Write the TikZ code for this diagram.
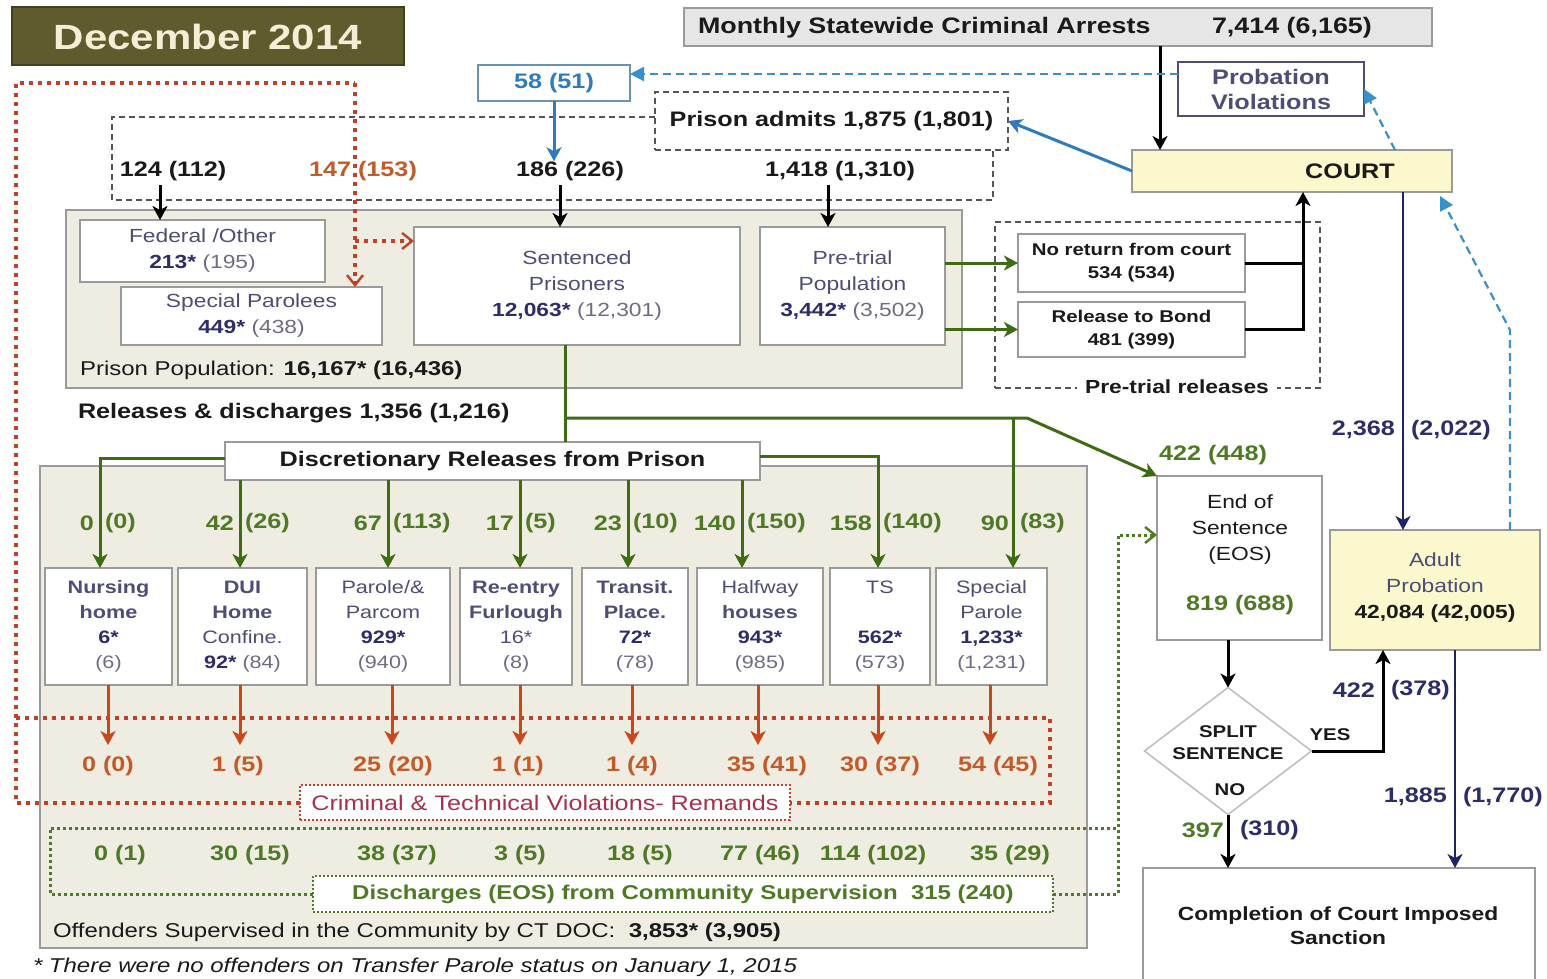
\documentclass[tikz,border=0pt]{standalone}
\usepackage{fontspec}
\setmainfont{Liberation Sans}[FakeStretch=1.2]
\usetikzlibrary{fit,arrows.meta,shapes.geometric}
\definecolor{olivebg}{HTML}{5E5B2C}
\definecolor{titletxt}{HTML}{F4EED6}
\definecolor{beige}{HTML}{EFEDE2}
\definecolor{bordergray}{HTML}{9A9A9A}
\definecolor{dgray}{HTML}{555555}
\definecolor{navy}{HTML}{2D2D6B}
\definecolor{slate}{HTML}{4D4D78}
\definecolor{pgray}{HTML}{6D6D80}
\definecolor{grnline}{HTML}{3E6B14}
\definecolor{grntxt}{HTML}{4F7A25}
\definecolor{orng}{HTML}{C8471C}
\definecolor{orngtxt}{HTML}{C25A2A}
\definecolor{rdotc}{HTML}{C0402A}
\definecolor{crim}{HTML}{A8304A}
\definecolor{blu}{HTML}{2E7BC0}
\definecolor{bludash}{HTML}{3A90C8}
\definecolor{bluegray}{HTML}{6A93AE}
\definecolor{navyline}{HTML}{1E2468}
\definecolor{yel}{HTML}{FAF8CC}
\definecolor{arrgray}{HTML}{E6E6E6}
\definecolor{txt}{HTML}{1A1A1A}
\newcommand\fA{\fontsize{10.5}{12.5}\selectfont\bfseries}
\newcommand\fBox{\fontsize{9.5}{13}\selectfont}
\newcommand\fSm{\fontsize{9}{12.5}\selectfont}
\newcommand\nb[1]{\textcolor{navy}{\bfseries #1}}
\newcommand\np[1]{\textcolor{pgray}{#1}}
\begin{document}
\begin{tikzpicture}[x=0.5pt,y=-0.5pt,
  every node/.style={inner sep=0pt, outer sep=0pt},
  region/.style={draw=bordergray, fill=beige, line width=0.8pt},
  wbox/.style={draw=bordergray, fill=white, line width=0.8pt},
  lblA/.style={font=\fA, text=txt},
  glbl/.style={font=\fA, text=grntxt},
  olbl/.style={font=\fA, text=orngtxt},
  nlbl/.style={font=\fA, text=navy},
  btxt/.style={align=center, font=\fBox, text=slate},
  stxt/.style={align=center, font=\fSm, text=slate},
  tipS/.style={-{Stealth[length=7pt,width=7.5pt,inset=2pt]}},
  ablk/.style={draw=black, line width=1.5pt, tipS},
  blkline/.style={draw=black, line width=1.5pt},
  agrn/.style={draw=grnline, line width=1.5pt, tipS},
  gline/.style={draw=grnline, line width=1.5pt},
  aorg/.style={draw=orng, line width=1.5pt, tipS},
  ablu/.style={draw=blu, line width=1.5pt, tipS},
  anav/.style={draw=navyline, line width=1.1pt, tipS},
  rdot/.style={draw=rdotc, line width=2pt, dash pattern=on 2pt off 2.5pt},
  gdot/.style={draw=grntxt, line width=1.5pt, dash pattern=on 1.5pt off 1.5pt},
  bdash/.style={draw=bludash, line width=1.1pt, dash pattern=on 4pt off 2.5pt},
  thdash/.style={draw=dgray, line width=0.6pt, dash pattern=on 3pt off 2pt},
  barb/.style={-{Straight Barb[length=5pt,width=8pt,line width=1.2pt]}}]
\useasboundingbox (0,0) rectangle (1547,979);
\fill[white] (0,0) rectangle (1547,979);

% ---------- regions ----------
\node[region, fit={(66,210)(962,388)}] (pp) {};
\node[region, fit={(40,466)(1087,948)}] (comm) {};

% ---------- top ----------
\node[fill=olivebg, draw=olivebg!70!black, line width=0.8pt, fit={(12,7)(404,65)}] (title) {};
\node[font=\fontsize{17.5}{20}\selectfont\bfseries, text=titletxt] (titlet) at (208,37) {December 2014};
\node[draw=bordergray, fill=arrgray, line width=0.8pt, fit={(684,8)(1432,46)}] (arr) {};
\node[font=\fontsize{11.2}{13}\selectfont\bfseries, text=txt, anchor=west] (arrt) at (698,28) {Monthly Statewide Criminal Arrests};
\node[font=\fontsize{11.2}{13}\selectfont\bfseries, text=txt, anchor=west] (arrn) at (1212,28) {7,414 (6,165)};
\node[draw=bluegray, fill=white, line width=0.8pt, fit={(478,65)(630,101)}] (b58) {};
\node[font=\fA, text=blu] (b58t) at (b58.center) {58 (51)};
\node[draw=slate, fill=white, line width=0.8pt, fit={(1178,62)(1364,116)}] (probv) {};
\node[font=\fA, text=slate, align=center] (probvt) at (probv.center) {Probation\\Violations};
\node[thdash, fill=white, fit={(655,92)(1008,150)}] (adm) {};
\node[lblA] (admt) at (adm.center) {Prison admits 1,875 (1,801)};
\coordinate (c117) at (0,117);
\draw[thdash] (adm.west |- c117) -- (112,117) -- (112,200) -- (993,200) -- (993,150);

\node[lblA] (l124) at (173,171) {124 (112)};
\node[olbl] (l147) at (363,171) {147 (153)};
\node[lblA] (l186) at (570,171) {186 (226)};
\node[lblA] (l1418) at (840,171) {1,418 (1,310)};

% ---------- prison population ----------
\node[wbox, fit={(80,220)(325,282)}] (fed) {};
\node[btxt] (fedt) at (fed.center) {Federal /Other\\\nb{213*} \np{(195)}};
\node[wbox, fit={(121,287)(382,345)}] (spp) {};
\node[btxt] (sppt) at (spp.center) {Special Parolees\\\nb{449*} \np{(438)}};
\node[wbox, fit={(414,227)(740,345)}] (sent) {};
\node[btxt] (sentt) at (sent.center) {Sentenced\\Prisoners\\\nb{12,063*} \np{(12,301)}};
\node[wbox, fit={(760,227)(945,345)}] (pre) {};
\node[btxt] (pret) at (pre.center) {Pre-trial\\Population\\\nb{3,442*} \np{(3,502)}};
\node[anchor=west, font=\fontsize{10}{12}\selectfont, text=txt] (pptxt) at (80,370) {Prison Population: \textbf{16,167* (16,436)}};
\node[lblA, anchor=west] (rel) at (78,413) {Releases \& discharges 1,356 (1,216)};

% ---------- pre-trial releases ----------
\node[thdash, fit={(995,222)(1320,388)}] (ptr) {};
\node[fill=white, inner xsep=4pt, inner ysep=1pt, font=\fontsize{9.5}{11}\selectfont\bfseries, text=txt] (ptrl) at (1177,387) {Pre-trial releases};
\node[wbox, fit={(1018,234)(1245,292)}] (nr) {};
\node[align=center, font=\fontsize{8.5}{11.5}\selectfont\bfseries, text=txt] (nrt) at (nr.center) {No return from court\\534 (534)};
\node[wbox, fit={(1018,302)(1245,357)}] (rb) {};
\node[align=center, font=\fontsize{8.5}{11.5}\selectfont\bfseries, text=txt] (rbt) at (rb.center) {Release to Bond\\481 (399)};

% ---------- court side ----------
\node[draw=bordergray, fill=yel, line width=0.8pt, fit={(1132,150)(1452,192)}] (court) {};
\node[lblA] (courtt) at (1350,171) {COURT};
\node[wbox, fit={(1157,476)(1322,640)}] (eos) {};
\node[font=\fBox, text=txt, align=center] (eost) at (1240,530) {End of\\Sentence\\(EOS)};
\node[glbl] (eosn) at (1240,605) {819 (688)};
\node[glbl] (l422) at (1213,455) {422 (448)};
\node[draw=bordergray, fill=yel, line width=0.8pt, fit={(1330,530)(1540,650)}] (adult) {};
\node[btxt] (adultt) at (1435,588) {Adult\\Probation\\\textcolor{txt}{\bfseries 42,084 (42,005)}};
\node[draw=black!25, line width=0.8pt, shape=diamond, aspect=1, minimum width=83.5pt, minimum height=63.5pt] (dia) at (1228,751) {};
\node[font=\fontsize{8.5}{11}\selectfont\bfseries, text=txt, align=center] (diat) at (1228,743) {SPLIT\\SENTENCE};
\node[font=\fontsize{8.5}{11}\selectfont\bfseries, text=txt] (diano) at (1230,790) {NO};
\node[font=\fontsize{8.5}{11}\selectfont\bfseries, text=txt] (yes) at (1330,735) {YES};
\node[wbox, fit={(1143,868)(1535,1000)}] (comp) {};
\node[font=\fontsize{9.5}{12}\selectfont\bfseries, text=txt, align=center] (compt) at (1338,926) {Completion of Court Imposed\\Sanction};

% ---------- community ----------
\node[wbox, fit={(225,442)(760,480)}] (disc) {};
\node[lblA] (disct) at (disc.center) {Discretionary Releases from Prison};
\node[wbox, fit={(45,568)(172,685)}] (nurs) {};
\node[stxt] (nurst) at (nurs.center) {\textbf{Nursing}\\\textbf{home}\\\nb{6*}\\\np{(6)}};
\node[wbox, fit={(178,568)(307,685)}] (dui) {};
\node[stxt] (duit) at (dui.center) {\textbf{DUI}\\\textbf{Home}\\Confine.\\\nb{92*} \np{(84)}};
\node[wbox, fit={(316,568)(450,685)}] (par) {};
\node[stxt] (part) at (par.center) {Parole/\&\\Parcom\\\nb{929*}\\\np{(940)}};
\node[wbox, fit={(460,568)(572,685)}] (ree) {};
\node[stxt] (reet) at (ree.center) {\textbf{Re-entry}\\\textbf{Furlough}\\16*\\\np{(8)}};
\node[wbox, fit={(582,568)(688,685)}] (tra) {};
\node[stxt] (trat) at (tra.center) {\textbf{Transit.}\\\textbf{Place.}\\\nb{72*}\\\np{(78)}};
\node[wbox, fit={(697,568)(823,685)}] (hal) {};
\node[stxt] (halt) at (hal.center) {Halfway\\\textbf{houses}\\\nb{943*}\\\np{(985)}};
\node[wbox, fit={(830,568)(930,685)}] (ts) {};
\node[stxt] (tst) at (ts.center) {TS\\\strut\\\nb{562*}\\\np{(573)}};
\node[wbox, fit={(936,568)(1047,685)}] (specp) {};
\node[stxt] (specpt) at (specp.center) {Special\\Parole\\\nb{1,233*}\\\np{(1,231)}};
\node[draw=rdotc, line width=1pt, dash pattern=on 1pt off 1pt, fill=white, fit={(300,785)(790,820)}] (rem) {};
\node[font=\fontsize{10.5}{12}\selectfont, text=crim] (remt) at (rem.center) {Criminal \& Technical Violations- Remands};
\node[draw=grntxt, line width=1pt, dash pattern=on 1pt off 1pt, fill=white, fit={(313,876)(1053,912)}] (disch) {};
\node[font=\fontsize{10}{12}\selectfont\bfseries, text=grntxt] (discht) at (disch.center) {Discharges (EOS) from Community Supervision\ \ 315 (240)};
\node[anchor=west, font=\fontsize{10}{12}\selectfont, text=txt] (offt) at (53,932) {Offenders Supervised in the Community by CT DOC:\ \ \textbf{3,853* (3,905)}};
\node[anchor=base west, font=\fontsize{10}{12}\selectfont\itshape, text=txt] (foot) at (33,972) {* There were no offenders on Transfer Parole status on January 1, 2015};

% ---------- dotted loops ----------
\coordinate (r1) at (16,83);
\coordinate (r2) at (355,83);
\coordinate (r3) at (16,718);
\coordinate (r4) at (1050,718);
\coordinate (r5) at (355,241);
\draw[rdot] (rem.west) -| (r1) -- (r2);
\draw[rdot, barb] (r2) -- (r2 |- spp.north);
\draw[rdot, barb] (r5) -- (r5 -| sent.west);
\draw[rdot] (r3) -- (r4) |- (rem.east);
\coordinate (gd1) at (50,828);
\coordinate (gd2) at (1118,828);
\coordinate (gd3) at (1118,535);
\draw[gdot] (disch.west) -| (gd1) -- (gd2);
\draw[gdot, barb] (disch.east) -| (gd3) -- (gd3 -| eos.west);

% ---------- admissions arrows ----------
\coordinate (v160) at (160,185);
\coordinate (v560) at (560,185);
\coordinate (v828) at (828,185);
\draw[ablk] (v160) -- (v160 |- fed.north);
\draw[ablk] (v560) -- (v560 |- sent.north);
\draw[ablk] (v828) -- (v828 |- pre.north);
\draw[ablu] (b58.south) -- (b58.south |- l186.north);

% ---------- release arrows ----------
\coordinate (g1) at (565,418);
\coordinate (g2) at (1027,418);
\coordinate (g3) at (1013,418);
\draw[gline] (sent.south -| g1) -- (g1 |- disc.north);
\draw[agrn] (g1) -- (g2) -- (eos.north west);
\draw[agrn] (g3) -- (g3 |- specp.north);
\coordinate (d1) at (100,458);
\coordinate (d2) at (878,456);
\draw[agrn] (disc.west |- d1) -- (d1) -- (d1 |- nurs.north);
\draw[agrn] (disc.east |- d2) -- (d2) -- (d2 |- ts.north);
\foreach \x/\t in {240/dui,388/par,520/ree,628/tra,742/hal}{
  \coordinate (tmp) at (\x,0);
  \draw[agrn] (tmp |- disc.south) -- (tmp |- \t.north);
}
\foreach \x/\a/\b/\n in {100/0/(0)/ga,240/42/(26)/gb,388/67/(113)/gc,520/17/(5)/gd,628/23/(10)/ge,742/140/(150)/gf,878/158/(140)/gg,1015/90/(83)/gh}{
  \node[glbl, anchor=east] (\n l) at ({\x-6},523) {\a};
  \node[glbl, anchor=west] (\n r) at ({\x+5},523) {\b};
}
\foreach \x/\t in {108/nurs,240/dui,392/par,520/ree,632/tra,758/hal,878/ts,990/specp}{
  \coordinate (tmp) at (\x,745);
  \draw[aorg] (tmp |- \t.south) -- (tmp);
}
\foreach \x/\s/\n in {108/0 (0)/oa,238/1 (5)/ob,393/25 (20)/oc,518/1 (1)/od,632/1 (4)/oe,767/35 (41)/of,880/30 (37)/og,998/54 (45)/oh}{
  \node[olbl] (\n) at (\x,766) {\s};
}
\foreach \x/\s/\n in {120/0 (1)/ea,250/30 (15)/eb,397/38 (37)/ec,520/3 (5)/ed,640/18 (5)/ee,760/77 (46)/ef,873/114 (102)/eg,1010/35 (29)/eh}{
  \node[glbl] (\n) at (\x,855) {\s};
}

% ---------- pre-trial ----------
\draw[agrn] (pre.east |- nr.west) -- (nr.west);
\draw[agrn] (pre.east |- rb.west) -- (rb.west);
\coordinate (c1303) at (1303,0);
\draw[blkline] (nr.east) -- (nr.east -| c1303);
\draw[ablk] (rb.east) -- (rb.east -| c1303) -- (court.south -| c1303);

% ---------- court arrows ----------
\coordinate (c1160) at (1160,0);
\draw[ablk] (arr.south -| c1160) -- (court.north -| c1160);
\draw[ablu] (court.west) -- (adm.east);
\coordinate (c74) at (0,74);
\draw[bdash, -{Triangle[length=7pt,width=7pt]}] (probv.west |- c74) -- (b58.east |- c74);
\coordinate (c1395) at (1395,0);
\draw[bdash, -{Triangle[length=7pt,width=7pt]}] (court.north -| c1395) -- (probv.east);
\coordinate (c1403) at (1403,0);
\draw[anav] (court.south -| c1403) -- (adult.north -| c1403);
\node[nlbl, anchor=east] (l2368) at (1395,430) {2,368};
\node[nlbl, anchor=west] (l2022) at (1411,430) {(2,022)};
\coordinate (c1510) at (1510,330);
\coordinate (ctip) at (1440,196);
\draw[bdash, -{Triangle[length=7pt,width=7pt]}] (adult.north -| c1510) -- (c1510) -- (ctip);
\draw[ablk] (eos.south -| dia.north) -- (dia.north);
\coordinate (c1383) at (1383,0);
\draw[ablk] (dia.east) -| (c1383 |- adult.south);
\node[nlbl, anchor=east] (l422b) at (1375,690) {422};
\node[nlbl, anchor=west] (l378) at (1391,690) {(378)};
\coordinate (c1455) at (1455,0);
\draw[anav] (adult.south -| c1455) -- (comp.north -| c1455);
\node[nlbl, anchor=east] (l1885) at (1447,797) {1,885};
\node[nlbl, anchor=west] (l1770) at (1463,797) {(1,770)};
\draw[ablk] (dia.south) -- (dia.south |- comp.north);
\node[glbl, anchor=east] (l397) at (1224,830) {397};
\node[nlbl, anchor=west] (l310) at (1240,830) {(310)};
\end{tikzpicture}
\end{document}
